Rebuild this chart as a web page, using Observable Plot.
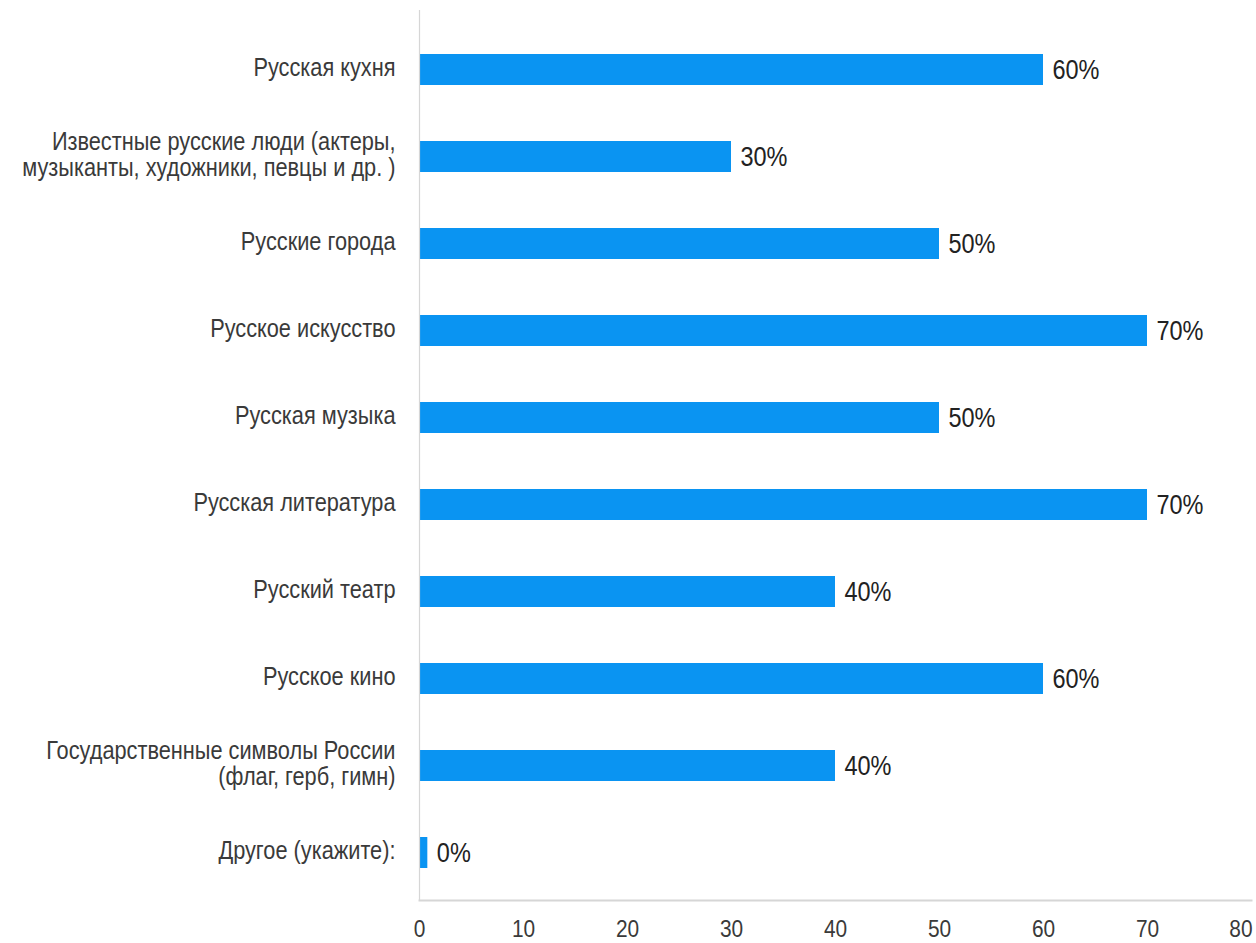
<!DOCTYPE html>
<html>
<head>
<meta charset="utf-8">
<script src="https://cdn.jsdelivr.net/npm/d3@7"></script>
<script src="https://cdn.jsdelivr.net/npm/@observablehq/plot@0.6"></script>
<style>
  html, body { margin: 0; padding: 0; background: #fff; }
  #chart { width: 1256px; height: 943px; overflow: hidden; }
</style>
</head>
<body>
<div id="chart"></div>
<script>
const categories = [
  "Русская кухня",
  "Известные русские люди (актеры,\nмузыканты, художники, певцы и др. )",
  "Русские города",
  "Русское искусство",
  "Русская музыка",
  "Русская литература",
  "Русский театр",
  "Русское кино",
  "Государственные символы России\n(флаг, герб, гимн)",
  "Другое (укажите):"
];
const values = [60, 30, 50, 70, 50, 70, 40, 60, 40, 0];
const xTicks = [0, 10, 20, 30, 40, 50, 60, 70];
const xLastTick = [80];

const data = categories.map((c, i) => ({category: c, value: values[i]}));
const minVisible = 0.8; // zero bars still shown as a thin sliver
const barEnd = d => Math.max(d.value, minVisible);

const font = "'Liberation Sans', Arial, sans-serif";
const textColor = "#3a3a3a";
const lineColor = "#d6d6d6";
const narrow = 0.87; // horizontal squeeze of the narrow source typeface

const chart = Plot.plot({
  width: 1256,
  height: 943,
  marginLeft: 419,
  marginRight: 5,
  marginTop: 21,
  marginBottom: 43,
  style: {fontFamily: font, background: "#fff", color: textColor, overflow: "visible"},
  x: {domain: [0, 80], axis: null},
  y: {domain: categories, axis: null, paddingInner: 0.645, paddingOuter: 0.3225},
  marks: [
    Plot.barX(data, {y: "category", x1: 0, x2: barEnd, fill: "#0a94f2"}),
    Plot.ruleX([0], {stroke: lineColor, strokeWidth: 1.2, insetTop: -11}),
    Plot.frame({anchor: "bottom", stroke: lineColor, strokeWidth: 2}),
    Plot.text(data, {
      y: "category", x: 0, text: "category",
      textAnchor: "end", lineAnchor: "middle", dx: -24, dy: -2,
      fontSize: 25, lineHeight: 1.04, fill: textColor
    }),
    Plot.text(data, {
      y: "category", x: barEnd, text: d => d.value + "%",
      textAnchor: "start", dx: 9, dy: 0,
      fontSize: 27, fill: "#222"
    }),
    Plot.axisX(xTicks, {
      anchor: "bottom", tickSize: 0, tickPadding: 19,
      fontSize: 24, fill: textColor, tickFormat: d => String(d)
    }),
    Plot.axisX(xLastTick, {
      anchor: "bottom", tickSize: 0, tickPadding: 19,
      fontSize: 24, fill: textColor, textAnchor: "end", dx: 1, tickFormat: d => String(d)
    })
  ]
});

// squeeze every text horizontally about its anchor point
d3.select(chart).selectAll("text").each(function() {
  const t = this.getAttribute("transform") || "";
  this.setAttribute("transform", (t + ` scale(${narrow},1)`).trim());
});

document.getElementById("chart").appendChild(chart);
</script>
</body>
</html>
